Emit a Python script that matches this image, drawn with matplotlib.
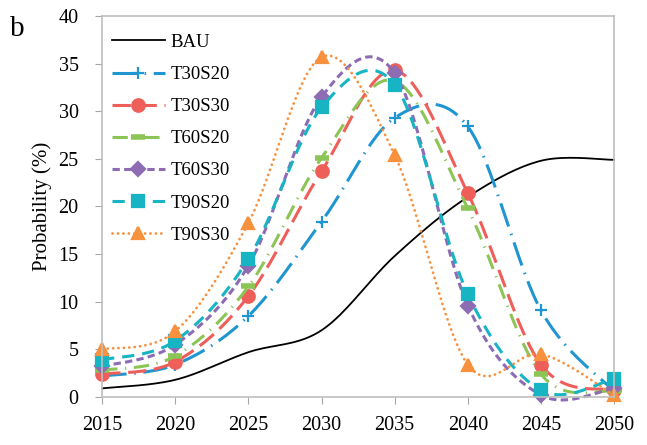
import numpy as np
import matplotlib
matplotlib.use("Agg")
import matplotlib.pyplot as plt

plt.rcParams["font.family"] = ["Liberation Serif", "DejaVu Serif"]

years = [2015, 2020, 2025, 2030, 2035, 2040, 2045, 2050]

bau    = [0.9, 1.8, 4.7, 7.0, 14.8, 21.0, 24.8, 24.9]
t30s20 = [2.2, 3.4, 8.5, 18.4, 29.3, 28.4, 9.1, 0.6]
t30s30 = [2.4, 3.7, 10.6, 23.7, 34.3, 21.4, 3.4, 0.7]
t60s20 = [2.8, 4.3, 11.6, 25.1, 33.2, 19.8, 2.4, 0.6]
t60s30 = [3.2, 5.5, 13.8, 31.5, 34.0, 9.6, 0.2, 0.9]
t90s20 = [3.9, 5.9, 14.5, 30.4, 32.8, 10.8, 0.7, 1.9]
t90s30 = [5.0, 6.9, 18.3, 35.7, 25.4, 3.4, 4.5, 0.2]

labels = ["BAU", "T30S20", "T30S30", "T60S20", "T60S30", "T90S20", "T90S30"]


def smooth(x, y, n=20):
    # Excel-like smoothed line: Catmull-Rom style Bezier segments
    x = np.asarray(x, float)
    y = np.asarray(y, float)
    px = np.concatenate([[x[0]], x, [x[-1]]])
    py = np.concatenate([[y[0]], y, [y[-1]]])
    t = np.linspace(0, 1, n, endpoint=False)[:, None]
    xs, ys = [], []
    for i in range(1, len(px) - 2):
        p0 = np.array([px[i], py[i]])
        p3 = np.array([px[i + 1], py[i + 1]])
        c1 = p0 + (p3 - np.array([px[i - 1], py[i - 1]])) / 6
        c2 = p3 - (np.array([px[i + 2], py[i + 2]]) - p0) / 6
        b = ((1 - t) ** 3) * p0 + 3 * ((1 - t) ** 2) * t * c1 \
            + 3 * (1 - t) * t ** 2 * c2 + t ** 3 * p3
        xs.append(b[:, 0])
        ys.append(b[:, 1])
    xs.append([x[-1]])
    ys.append([y[-1]])
    return np.concatenate(xs), np.concatenate(ys)


fig = plt.figure(figsize=(6.47, 4.45), dpi=100)
ax = fig.add_axes([0.158, 0.108, 0.791, 0.856])

n = 20
series = [
    (bau,    "black",   "-",                       None, 0, 1.3),
    (t30s20, "#1f95d1", (0, (8, 2.5, 0.5, 2.5)),  "+",  8, 2.2),
    (t30s30, "#ef5f5a", (0, (6, 2.5)),            "o",  9, 2.2),
    (t60s20, "#8dc456", (0, (5, 2.5, 0.4, 2.5)),  "_",  10, 2.2),
    (t60s30, "#8d6cb3", (0, (2.4, 1.4)),          "D",  7, 2.2),
    (t90s20, "#17b4c4", (0, (4, 2.6)),            "s",  9, 2.2),
    (t90s30, "#f7913d", (0, (0.05, 1.9)),         "^",  9, 2.0),
]

for (vals, col, ls, mk, ms, lw), lab in zip(series, labels):
    sx, sy = smooth(years, vals, n)
    kw = {}
    if mk is not None:
        kw = dict(marker=mk, markersize=ms, markevery=n,
                  markerfacecolor=col, markeredgecolor=col,
                  markeredgewidth=4 if mk == "_" else 1.6)
    line, = ax.plot(sx, sy, color=col, linestyle=ls, linewidth=lw,
                    label=lab, clip_on=False, **kw)
    if mk == "^":
        line.set_dash_capstyle("round")

ax.set_xlim(2015, 2050)
ax.set_ylim(0, 40)
ax.set_xticks(years)
ax.set_yticks(range(0, 41, 5))
ax.tick_params(direction="out", length=5, color="#a6a6a6", labelsize=14.5)
ax.tick_params(axis="x", pad=9)
ax.tick_params(axis="y", pad=12)
for sp in ax.spines.values():
    sp.set_color("#bfbfbf")
    sp.set_linewidth(1.2)

ax.set_ylabel("Probability (%)", fontsize=15, labelpad=5)

ax.legend(loc="upper left", frameon=False, fontsize=13.5, numpoints=1,
          handlelength=2.8, handletextpad=0.3, labelspacing=0.8,
          bbox_to_anchor=(-0.012, 0.995), borderaxespad=0.55, borderpad=0.3)

fig.text(0.015, 0.965, "b", fontsize=21, va="top", ha="left")

fig.savefig("out.png", dpi=100)
